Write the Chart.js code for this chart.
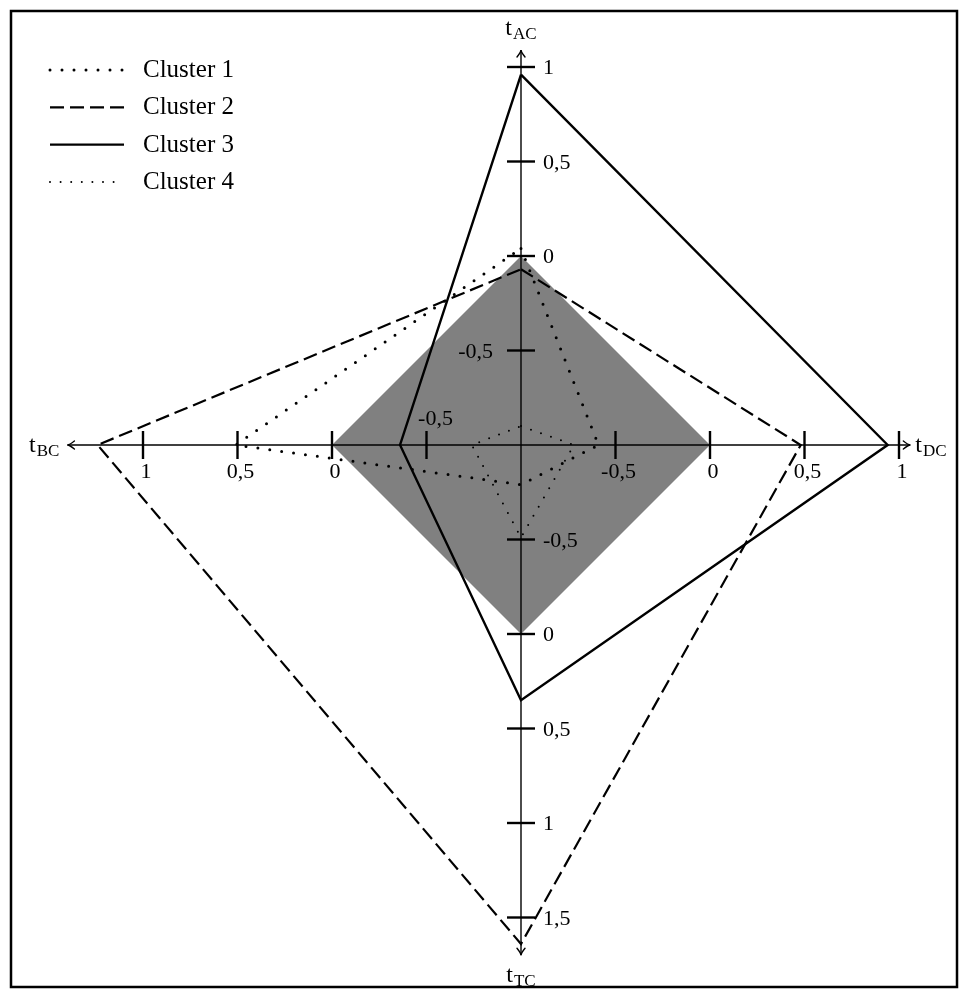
<!DOCTYPE html>
<html>
<head>
<meta charset="utf-8">
<script src="https://cdn.jsdelivr.net/npm/chart.js@4.4.1/dist/chart.umd.min.js"></script>
<style>
  html, body { margin: 0; padding: 0; background: #fff; }
</style>
</head>
<body>
<canvas id="star-chart" width="963" height="992"></canvas>
<script>
// axes go up, right, down, left; every axis starts at -1 in the centre
const axisNames = ['AC', 'DC', 'TC', 'BC'];
const axisTicks = [
    [-0.5, 0, 0.5, 1],
    [-0.5, 0, 0.5, 1],
    [-0.5, 0, 0.5, 1, 1.5],
    [-0.5, 0, 0.5, 1]
];
const axisEnds = [1.09, 1.06, 1.7, 1.4];
const axisOrigin = -1;

const clusterNames = ['Cluster 1', 'Cluster 2', 'Cluster 3', 'Cluster 4'];
const cluster1 = [0.04, -0.59, -0.79, 0.51];
const cluster2 = [-0.07, 0.48, 1.64, 1.24];
const cluster3 = [0.96, 0.94, 0.35, -0.36];
const cluster4 = [-0.9, -0.72, -0.51, -0.74];
const zeroLevel = [0, 0, 0, 0];

//-------------------------------------------------//

const dirs = [[0, 1], [1, 0], [0, -1], [-1, 0]];
const UNIT = 189;           // pixels per unit on every axis
const CX = 521, CY = 445;   // where the axes cross
const W = 963, H = 992;
const FONT = '"Liberation Serif", "DejaVu Serif", serif';

function toPoint(v, k) {
    const r = v - axisOrigin;
    return { x: dirs[k][0] * r, y: dirs[k][1] * r };
}

function toPolygon(values) {
    const pts = values.map(toPoint);
    pts.push(pts[0]);
    return pts;
}

const clusterStyles = [
    { borderWidth: 3, borderDash: [0, 12], borderCapStyle: 'round' },
    { borderWidth: 2.2, borderDash: [14, 6], borderCapStyle: 'butt' },
    { borderWidth: 2.4, borderDash: [], borderCapStyle: 'butt' },
    { borderWidth: 2, borderDash: [0, 10.6], borderCapStyle: 'round' }
];

const clusterSets = [cluster1, cluster2, cluster3, cluster4].map((values, i) => Object.assign({
    label: clusterNames[i],
    data: toPolygon(values),
    showLine: true,
    borderColor: '#000',
    borderJoinStyle: 'miter',
    pointRadius: 0,
    fill: false
}, clusterStyles[i]));

// grey diamond at the zero level, filled as two halves down to the centre line
const zeroSet = (k) => ({
    data: [toPoint(zeroLevel[3], 3), toPoint(zeroLevel[k], k), toPoint(zeroLevel[1], 1)],
    showLine: true,
    borderColor: 'rgba(0,0,0,0)',
    borderWidth: 0,
    backgroundColor: '#808080',
    pointRadius: 0,
    fill: 'origin'
});

function axisPixel(chart, v, k) {
    const p = toPoint(v, k);
    return { x: chart.scales.x.getPixelForValue(p.x), y: chart.scales.y.getPixelForValue(p.y) };
}

function fmt(v) {
    return String(v).replace('.', ',');
}

// "t" with a small-caps style subscript
function drawTitle(ctx, name, x, y, align) {
    ctx.font = '24px ' + FONT;
    const tw = ctx.measureText('t').width;
    ctx.font = '17px ' + FONT;
    const sw = ctx.measureText(name).width;
    const total = tw + 1 + sw;
    let left = x;
    if (align === 'center') left = x - total / 2;
    if (align === 'right') left = x - total;
    ctx.textAlign = 'left';
    ctx.textBaseline = 'alphabetic';
    ctx.font = '24px ' + FONT;
    ctx.fillText('t', left, y);
    ctx.font = '17px ' + FONT;
    ctx.fillText(name, left + tw + 1, y + 4);
}

const starAxes = {
    id: 'starAxes',
    afterDatasetsDraw(chart) {
        const ctx = chart.ctx;
        ctx.save();
        ctx.strokeStyle = '#000';
        ctx.fillStyle = '#000';
        ctx.setLineDash([]);
        axisNames.forEach((name, k) => {
            const c = axisPixel(chart, axisOrigin, k);
            const e = axisPixel(chart, axisEnds[k], k);
            const dx = dirs[k][0], dy = -dirs[k][1];

            ctx.lineWidth = 1.4;
            ctx.lineCap = 'butt';
            ctx.beginPath();
            ctx.moveTo(c.x, c.y);
            ctx.lineTo(e.x, e.y);
            ctx.stroke();

            // arrow head
            ctx.lineCap = 'round';
            ctx.beginPath();
            ctx.moveTo(e.x - dx * 7 + dy * 4, e.y - dy * 7 + dx * 4);
            ctx.quadraticCurveTo(e.x - dx * 2, e.y - dy * 2, e.x, e.y);
            ctx.quadraticCurveTo(e.x - dx * 2, e.y - dy * 2, e.x - dx * 7 - dy * 4, e.y - dy * 7 - dx * 4);
            ctx.stroke();

            // ticks and their labels
            ctx.font = '22px ' + FONT;
            axisTicks[k].forEach(t => {
                const p = axisPixel(chart, t, k);
                ctx.lineWidth = 2.4;
                ctx.lineCap = 'butt';
                ctx.beginPath();
                ctx.moveTo(p.x - dy * 14, p.y - dx * 14);
                ctx.lineTo(p.x + dy * 14, p.y + dx * 14);
                ctx.stroke();

                ctx.textBaseline = 'alphabetic';
                if (dx === 0) {
                    if (k === 0 && t < 0) {
                        ctx.textAlign = 'right';
                        ctx.fillText(fmt(t), p.x - 28, p.y + 7);
                    } else {
                        ctx.textAlign = 'left';
                        ctx.fillText(fmt(t), p.x + 22, p.y + 7);
                    }
                } else {
                    ctx.textAlign = 'center';
                    if (k === 3 && t < 0) {
                        ctx.fillText(fmt(t), p.x + 9, p.y - 20);
                    } else {
                        ctx.fillText(fmt(t), p.x + 3, p.y + 33);
                    }
                }
            });

            if (k === 0) drawTitle(ctx, name, e.x, e.y - 15, 'center');
            if (k === 1) drawTitle(ctx, name, e.x + 5, e.y + 7, 'left');
            if (k === 2) drawTitle(ctx, name, e.x, e.y + 27, 'center');
            if (k === 3) drawTitle(ctx, name, e.x - 8, e.y + 7, 'right');
        });
        ctx.restore();
    },
    afterDraw(chart) {
        const ctx = chart.ctx;
        ctx.save();
        // legend, top left
        chart.data.datasets.forEach((ds, i) => {
            if (!ds.label) return;
            const y = 70 + i * 37.3;
            ctx.strokeStyle = '#000';
            ctx.lineWidth = ds.borderWidth;
            ctx.setLineDash(ds.borderDash);
            ctx.lineCap = ds.borderCapStyle;
            ctx.beginPath();
            ctx.moveTo(50, y);
            ctx.lineTo(124, y);
            ctx.stroke();
            ctx.setLineDash([]);
            ctx.fillStyle = '#000';
            ctx.font = '25px ' + FONT;
            ctx.textAlign = 'left';
            ctx.textBaseline = 'alphabetic';
            ctx.fillText(ds.label, 143, y + 7);
        });
        // frame
        ctx.lineWidth = 2.5;
        ctx.strokeStyle = '#000';
        ctx.strokeRect(11, 11, 946, 976);
        ctx.restore();
    }
};

const ctx = document.getElementById('star-chart').getContext('2d');
const chart = new Chart(ctx, {
    type: 'scatter',
    data: {
        datasets: clusterSets.concat([zeroSet(0), zeroSet(2)])
    },
    options: {
        responsive: false,
        animation: false,
        devicePixelRatio: 1,
        events: [],
        layout: { padding: 0 },
        plugins: {
            legend: { display: false },
            tooltip: { enabled: false }
        },
        scales: {
            x: { type: 'linear', display: false, min: -CX / UNIT, max: (W - CX) / UNIT },
            y: { type: 'linear', display: false, min: -(H - CY) / UNIT, max: CY / UNIT }
        }
    },
    plugins: [starAxes]
});
</script>
</body>
</html>
